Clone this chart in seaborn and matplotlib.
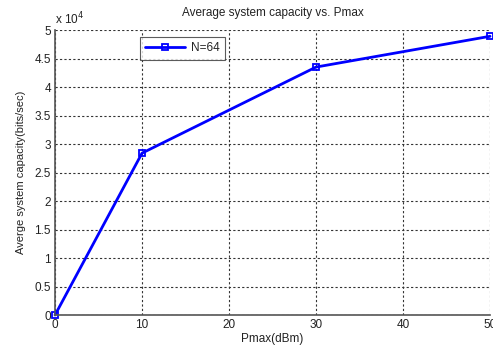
import matplotlib
matplotlib.use("Agg")
import matplotlib.pyplot as plt
import seaborn as sns
import pandas as pd

pmax = [0, 10, 30, 50]
capacity = [0, 28400, 43500, 48900]
series_label = "N=64"
yticks = [0, 0.5, 1, 1.5, 2, 2.5, 3, 3.5, 4, 4.5, 5]
ytick_labels = ["0", "0.5", "1", "1.5", "2", "2.5", "3", "3.5", "4", "4.5", "5"]
xticks = [0, 10, 20, 30, 40, 50]

sns.set_style("white")
plt.rcParams['font.family'] = ['Liberation Sans', 'DejaVu Sans']

df = pd.DataFrame({"Pmax": pmax, "cap": [c / 1e4 for c in capacity]})

fig = plt.figure(figsize=(4.93, 3.49), dpi=100)
ax = fig.add_axes([0.1116, 0.0974, 0.8824, 0.8166])

sns.lineplot(data=df, x="Pmax", y="cap", ax=ax, color="#0000ff", linewidth=2,
             marker="s", markersize=5, markerfacecolor="none",
             markeredgecolor="#0000ff", markeredgewidth=1.3, label=series_label,
             clip_on=False)

ax.set_xlim(0, 50)
ax.set_ylim(0, 5)
ax.set_xticks(xticks)
ax.set_yticks(yticks)
ax.set_yticklabels(ytick_labels)
ax.grid(True, color="#333333", linestyle=(0, (2, 2)), linewidth=0.8)
for s in ["top", "right"]:
    ax.spines[s].set_visible(False)
for s in ["left", "bottom"]:
    ax.spines[s].set_color("#555555")
    ax.spines[s].set_linewidth(1.2)
ax.tick_params(axis="both", labelsize=8.5, colors="#222222", length=3, direction="in", width=0.8, pad=3)

ax.set_title("Average system capacity vs. Pmax", fontsize=8.5, color="#222222", pad=10)
ax.set_xlabel("Pmax(dBm)", fontsize=8.5, color="#222222", labelpad=1)
ax.set_ylabel("Averge system capacity(bits/sec)", fontsize=8, color="#222222", labelpad=6)
ax.text(0.0, 1.01, "x 10$^{4}$", transform=ax.transAxes, fontsize=8.5, color="#222222", ha="left", va="bottom")

leg = ax.legend(loc="upper left", bbox_to_anchor=(0.195, 0.975), fontsize=8.5, frameon=True,
                fancybox=False, edgecolor="#333333", borderpad=0.45, handlelength=3.4,
                handletextpad=0.5, borderaxespad=0)
leg.get_frame().set_linewidth(0.8)

fig.savefig("out.png", dpi=100)
